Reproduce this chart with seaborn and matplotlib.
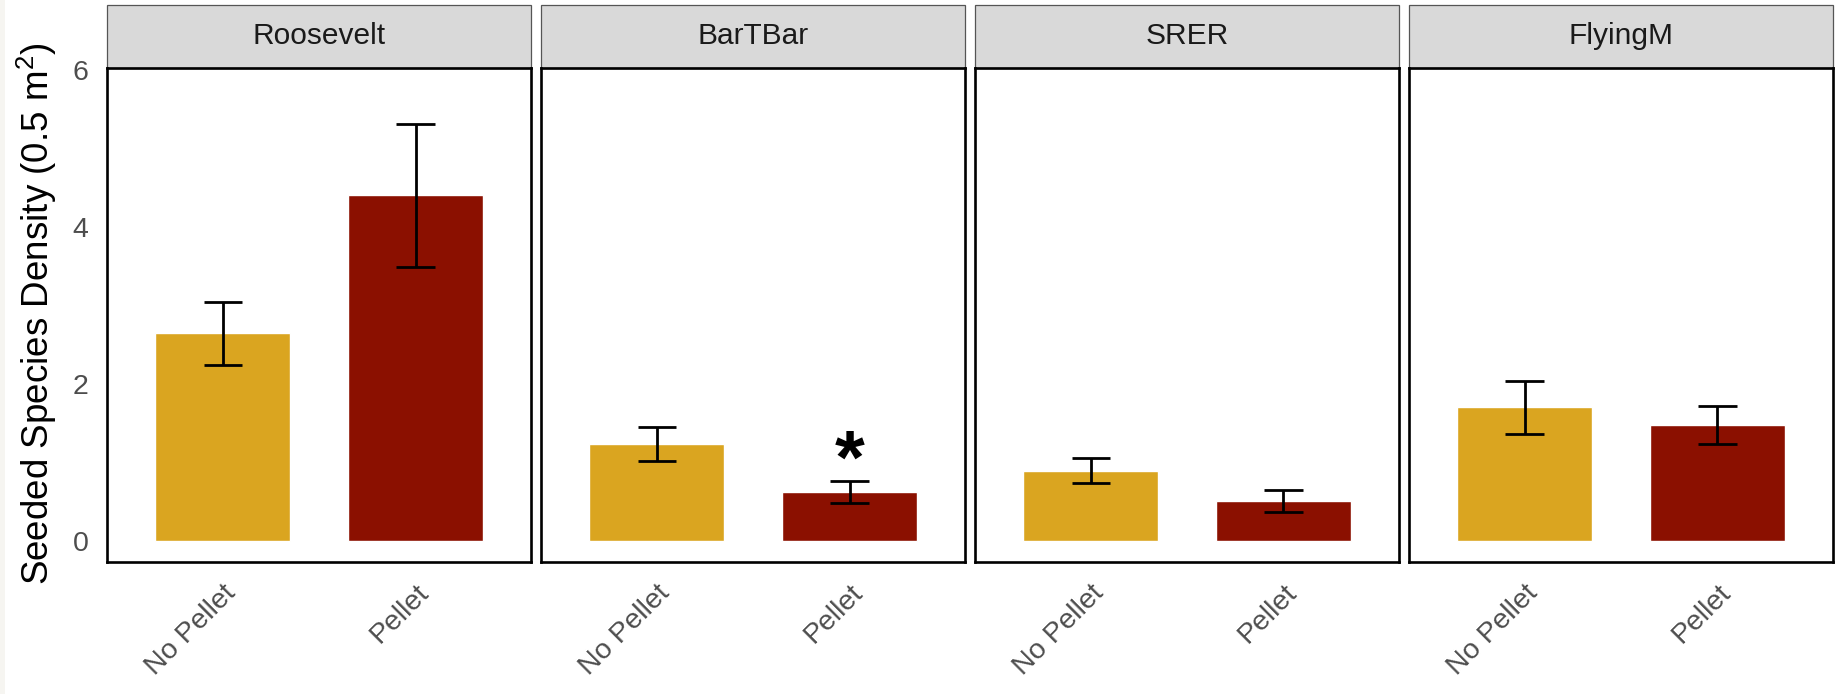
import numpy as np
import pandas as pd
import matplotlib
matplotlib.use("Agg")
import matplotlib.pyplot as plt
import seaborn as sns
from matplotlib.patches import Rectangle

# data (mean +/- se)
sites = ["Roosevelt", "BarTBar", "SRER", "FlyingM"]
treatments = ["No Pellet", "Pellet"]
no_pellet_mean = [2.64, 1.23, 0.89, 1.70]
pellet_mean = [4.40, 0.62, 0.51, 1.47]
no_pellet_se = [0.40, 0.22, 0.16, 0.34]
pellet_se = [0.91, 0.14, 0.14, 0.24]
sig_labels = ["", "*", "", ""]

colors = {"No Pellet": "#DAA520", "Pellet": "#8B1000"}

df = pd.DataFrame({
    "site": np.repeat(sites, 2),
    "treatment": treatments * len(sites),
    "density": np.ravel(np.column_stack([no_pellet_mean, pellet_mean])),
    "se": np.ravel(np.column_stack([no_pellet_se, pellet_se])),
})

sns.set_style("white")
plt.rcParams["font.family"] = ["Liberation Sans", "DejaVu Sans"]

fig, axes = plt.subplots(1, 4, figsize=(18.43, 6.94), dpi=100, sharey=True)
fig.subplots_adjust(left=0.0582, right=0.9946, bottom=0.1898, top=0.9027, wspace=0.0236)

strip_h = 0.1263

for i, (ax, site) in enumerate(zip(axes, sites)):
    sub = df[df["site"] == site]
    sns.barplot(
        data=sub, x="treatment", y="density", hue="treatment",
        order=treatments, hue_order=treatments, palette=colors,
        width=0.7, errorbar=None, legend=False, saturation=1, ax=ax,
    )
    xs = np.arange(len(treatments))
    lo = sub["density"].values - sub["se"].values
    hi = sub["density"].values + sub["se"].values
    ax.vlines(xs, lo, hi, color="black", lw=2.0, zorder=3)
    ax.hlines(np.concatenate([lo, hi]), np.tile(xs, 2) - 0.1, np.tile(xs, 2) + 0.1,
              color="black", lw=2.0, zorder=3)

    if sig_labels[i]:
        ax.annotate(sig_labels[i], xy=(1, hi[1]), xytext=(0, -1),
                    textcoords="offset points", ha="center", va="baseline",
                    fontsize=55, fontweight="bold", color="black")

    ax.set_xlim(-0.6, 1.6)
    ax.set_ylim(-0.276, 6.03)
    ax.set_yticks([0, 2, 4, 6])
    ax.set_xlabel("")
    ax.set_ylabel("")

    for sp in ax.spines.values():
        sp.set_visible(True)
        sp.set_color("black")
        sp.set_linewidth(1.9)

    ax.tick_params(axis="both", length=7.5, width=1.8, color="#333333",
                   labelcolor="#4D4D4D", labelsize=20.5, pad=5)
    ax.tick_params(axis="y", pad=6)
    plt.setp(ax.get_xticklabels(), rotation=45, ha="right", rotation_mode="anchor")
    if i > 0:
        ax.tick_params(axis="y", left=False, labelleft=False)

    # facet strip
    ax.add_patch(Rectangle((0, 1), 1, strip_h, transform=ax.transAxes, clip_on=False,
                           facecolor="#D9D9D9", edgecolor="#555555", lw=0.9, zorder=0))
    ax.text(0.5, 1 + strip_h / 2, site, transform=ax.transAxes, ha="center",
            va="center", fontsize=21.5, color="#1A1A1A")

fig.text(37 / 1843, 0.548, "Seeded Species Density (0.5 $\\mathregular{m^2}$)",
         rotation=90, ha="center", va="center", fontsize=26.5, color="black")

# light border strip at the left edge of the original image
fig.patches.append(Rectangle((0, 0), 5 / 1843, 1, transform=fig.transFigure,
                             facecolor="#F6F5F1", edgecolor="none"))

fig.savefig("out.png", dpi=100)
